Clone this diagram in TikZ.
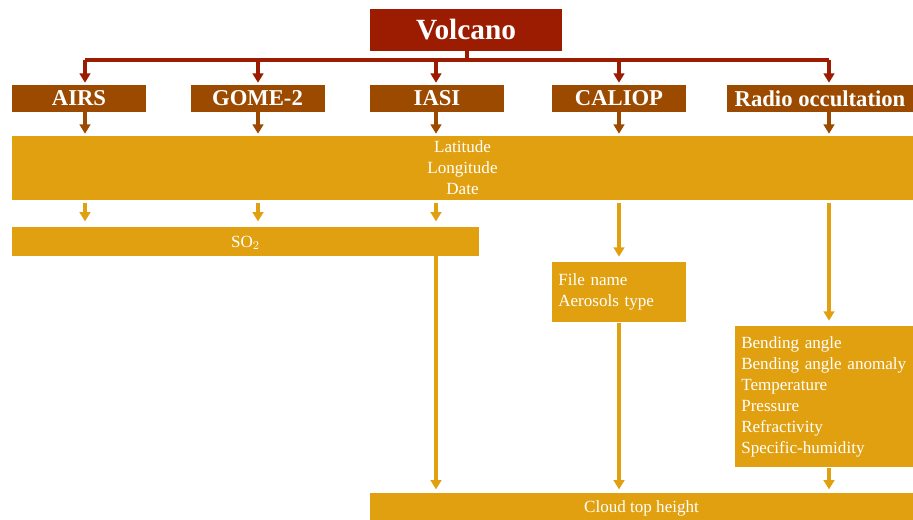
\documentclass[tikz,border=0pt]{standalone}
\usepackage{fontspec}
\setmainfont{Liberation Serif}
\usetikzlibrary{arrows.meta}
\definecolor{vred}{RGB}{155,28,0}
\definecolor{vbrown}{RGB}{155,74,0}
\definecolor{vgold}{RGB}{224,160,16}

\begin{document}
\begin{tikzpicture}[x=0.75pt,y=-0.75pt,>={Triangle[width=8pt,length=7pt]},
  topbox/.style={fill=vred,text=white,inner sep=0pt,font=\fontsize{22}{26}\selectfont\bfseries},
  instbox/.style={fill=vbrown,text=white,inner sep=0pt,font=\fontsize{17}{20}\selectfont\bfseries},
  databox/.style={fill=vgold,text=white,inner sep=0pt,font=\fontsize{12.8}{15.75}\selectfont},
  barbox/.style={databox,text depth=0pt},
  listbox/.style={databox,align=left,anchor=north west,inner xsep=4.5pt,inner ysep=4pt},
  redline/.style={draw=vred,line width=2.3pt},
  brownline/.style={draw=vbrown,line width=2.5pt},
  goldline/.style={draw=vgold,line width=2.8pt}]
  \useasboundingbox (0,0) rectangle (913,520);
  %% Source
  \node[topbox,minimum width=144pt,minimum height=31pt] (volcano) at (466,30) {Volcano};
  %% Instruments
  \node[instbox,minimum width=100.5pt,minimum height=20.25pt] (airs) at (79,98.5) {AIRS};
  \node[instbox,minimum width=100.5pt,minimum height=20.25pt] (gome) at (257.5,98.5) {GOME-2};
  \node[instbox,minimum width=100.5pt,minimum height=20.25pt] (iasi) at (437,98.5) {IASI};
  \node[instbox,minimum width=100.5pt,minimum height=20.25pt] (caliop) at (619,98.5) {CALIOP};
  \node[instbox,minimum width=139.5pt,minimum height=20.25pt] (radio) at (820,98.5) {Radio occultation};
  %% Data products
  \node[barbox,align=center,minimum width=675.75pt,minimum height=48pt] (info) at (462.5,168)
       {Latitude\\Longitude\\Date};
  \node[barbox,minimum width=350.25pt,minimum height=21.75pt] (so2) at (245.5,241.5) {SO$_2$};
  \node[listbox,text width=91.5pt,minimum height=45pt] (files) at (552,262)
       {File name\\Aerosols type};
  \node[listbox,text width=124.5pt,minimum height=105.75pt] (params) at (735,326)
       {Bending angle\\Bending angle anomaly\\Temperature\\Pressure\\Refractivity\\Specific-humidity};
  \node[barbox,minimum width=407.25pt,minimum height=20.25pt] (cloud) at (641.5,506.5) {Cloud top height};
  %% Columns of the connectors
  \coordinate (colA) at (85,0);
  \coordinate (colB) at (258,0);
  \coordinate (colC) at (436,0);
  \coordinate (colD) at (619,0);
  \coordinate (colE) at (829,0);
  \coordinate (bus) at (467,60);
  %% Connectors
  \draw[redline] (volcano.south -| bus) -- (bus);
  \draw[redline] (bus -| colA) -- (bus -| colE);
  \foreach \c/\n in {colA/airs,colB/gome,colC/iasi,colD/caliop,colE/radio}{
    \draw[redline,->,shorten >=1.5pt] (bus -| \c) -- (\n.north -| \c);
    \draw[brownline,->,shorten >=1.5pt] (\n.south -| \c) -- (info.north -| \c);
  }
  \foreach \c in {colA,colB,colC}
    \draw[goldline,->,shorten >=4pt,shorten <=2pt] (info.south -| \c) -- (so2.north -| \c);
  \draw[goldline,->,shorten >=4pt,shorten <=2pt] (info.south -| colD) -- (files.north -| colD);
  \draw[goldline,->,shorten >=4pt,shorten <=2pt] (info.south -| colE) -- (params.north -| colE);
  \draw[goldline,->,shorten >=2.5pt] (so2.south -| colC) -- (cloud.north -| colC);
  \draw[goldline,->,shorten >=2.5pt] (files.south -| colD) -- (cloud.north -| colD);
  \draw[goldline,->,shorten >=2.5pt] (params.south -| colE) -- (cloud.north -| colE);
\end{tikzpicture}
\end{document}
